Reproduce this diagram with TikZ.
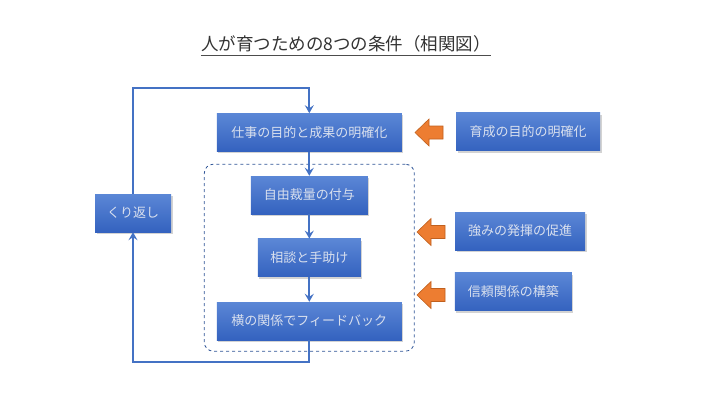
\documentclass[tikz,border=0pt]{standalone}
\usepackage{fontspec}
\setmainfont{Noto Sans CJK JP}
\usetikzlibrary{positioning,arrows.meta,shadows}
\definecolor{boxtop}{HTML}{5B87D6}
\definecolor{boxbot}{HTML}{3462BF}
\definecolor{boxtext}{HTML}{D9E0EE}
\definecolor{linkblue}{HTML}{4472C4}
\definecolor{grpblue}{HTML}{2F5597}
\definecolor{arrorange}{HTML}{ED7D31}
\definecolor{arredge}{HTML}{C0601E}

\begin{document}
\begin{tikzpicture}[x=1pt,y=-1pt,
    stepbox/.style={rectangle,top color=boxtop,bottom color=boxbot,text=boxtext,
        font=\fontsize{13}{15}\selectfont,minimum height=38pt,inner sep=0pt,
        drop shadow={shadow xshift=1.5pt,shadow yshift=-2pt,opacity=0.35}},
    flow/.style={linkblue,line width=2pt,-{Stealth[length=8pt,width=9pt,inset=3pt]}},
    hint/.style={fill=arrorange,draw=arredge,line width=0.6pt,line join=miter}]
        \useasboundingbox (0,0) rectangle (720,405);
        \node[font=\fontsize{17.5}{20}\selectfont,text=black!80,inner sep=0pt] (title) at (346,44) {人が育つための8つの条件（相関図）};
        \draw[black!70,line width=0.8pt] ([yshift=-3pt]title.south west) -- ([yshift=-3pt]title.south east);

        \node[draw=grpblue,dashed,line width=0.8pt,rounded corners=9pt,minimum width=210pt,minimum height=187pt] (grp) at (309.3,257.7) {};

        \node[stepbox,minimum width=185pt] (purpose) at (309.3,132.4) {仕事の目的と成果の明確化};
        \node[stepbox,minimum width=117pt] (freedom) at (309.3,195) {自由裁量の付与};
        \node[stepbox,minimum width=103pt] (advice) at (309.3,257.8) {相談と手助け};
        \node[stepbox,minimum width=185pt] (feedback) at (309.3,321) {横の関係でフィードバック};
        \node[stepbox,minimum width=76pt] (repeat) at (133,213) {くり返し};

        \node[stepbox,minimum width=144pt] (goal) at (528,131.7) {育成の目的の明確化};
        \node[stepbox,minimum width=130pt] (strength) at (520,231) {強みの発揮の促進};
        \node[stepbox,minimum width=117pt] (trust) at (513.3,291.7) {信頼関係の構築};

        % orange arrows, tip on the left
        \foreach \n/\x/\y in {ga/415/132.5,sa/417/232,ta/417/295} {
            \coordinate (\n) at (\x,\y);
            \draw[hint] (\n) -- ++(14,-13.5) -- ++(0,7) -- ++(14,0) -- ++(0,13) -- ++(-14,0) -- ++(0,7) -- cycle;
        }

        \draw[flow] (purpose) -- (freedom);
        \draw[flow] (freedom) -- (advice);
        \draw[flow] (advice) -- (feedback);

        \coordinate (looptop) at (133,88);
        \coordinate (loopbot) at (309.3,362);
        \draw[flow] (repeat.north) -- (repeat.north |- looptop) -| (purpose.north);
        \draw[flow] (feedback.south) -- (loopbot) -| (repeat.south);
    \end{tikzpicture}
\end{document}
